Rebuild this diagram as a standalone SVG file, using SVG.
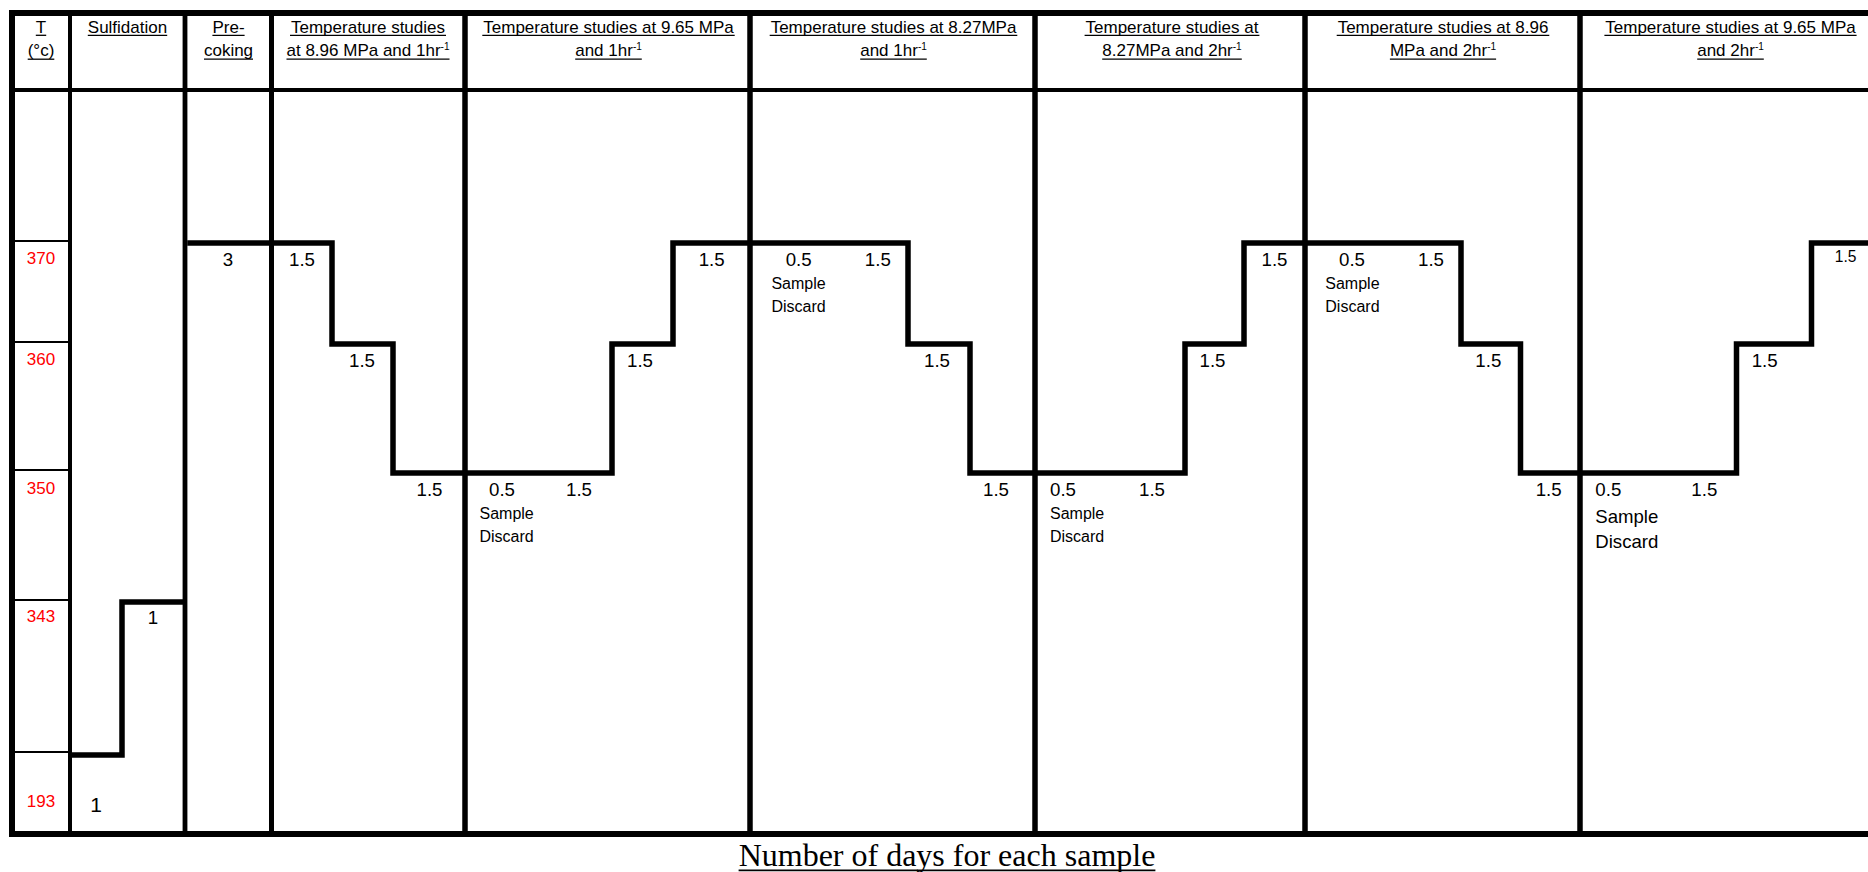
<svg xmlns="http://www.w3.org/2000/svg" width="1868" height="872" viewBox="0 0 1868 872">
<style>
  text { font-family: "Liberation Sans", Arial, sans-serif; fill: #000; }
  .hd { font-size: 17px; text-anchor: middle; }
  .sup { font-size: 10px; }
  .num { font-size: 18.7px; text-anchor: middle; }
  .sd { font-size: 16px; }
  .sd6 { font-size: 18.6px; }
  .red { font-size: 17px; text-anchor: middle; fill: #ff0000; }
  .ul { stroke: #000; stroke-width: 1.3; }
  .thin { stroke: #000; stroke-width: 2; }
  .col { stroke: #000; stroke-width: 5.5; }
  .border { stroke: #000; stroke-width: 6; }
  .step { fill: none; stroke: #000; stroke-width: 5.5; stroke-linejoin: miter; stroke-linecap: square; }
  .cap { font-family: "Liberation Serif", "Times New Roman", serif; font-size: 32px; text-anchor: middle; }
</style>
<rect x="0" y="0" width="1868" height="872" fill="#ffffff"/>

<g id="grid">
  <line class="border" x1="9" y1="13" x2="1868" y2="13"/>
  <line class="border" x1="9" y1="834" x2="1868" y2="834"/>
  <line class="border" x1="12" y1="10" x2="12" y2="837"/>
  <line stroke="#000" stroke-width="4" x1="12" y1="90" x2="1868" y2="90"/>
  <line stroke="#000" stroke-width="4" x1="70" y1="13" x2="70" y2="834"/>
  <line stroke="#000" stroke-width="4.8" x1="185" y1="13" x2="185" y2="834"/>
  <line stroke="#000" stroke-width="5" x1="271.5" y1="13" x2="271.5" y2="834"/>
  <line class="col" x1="465" y1="13" x2="465" y2="834"/>
  <line class="col" x1="750" y1="13" x2="750" y2="834"/>
  <line class="col" x1="1035" y1="13" x2="1035" y2="834"/>
  <line class="col" x1="1305" y1="13" x2="1305" y2="834"/>
  <line class="col" x1="1580" y1="13" x2="1580" y2="834"/>
  <line class="thin" x1="15" y1="241" x2="68" y2="241"/>
  <line class="thin" x1="15" y1="342" x2="68" y2="342"/>
  <line class="thin" x1="15" y1="470" x2="68" y2="470"/>
  <line class="thin" x1="15" y1="600" x2="68" y2="600"/>
  <line class="thin" x1="15" y1="752" x2="68" y2="752"/>
</g>

<g id="connectors">
  <path class="step" d="M74,755 H122 V602 H182"/>
  <path class="step" d="M190,243 H332 V344 H393 V473 H612 V344 H673 V243 H908 V344 H970 V473 H1185 V344 H1244 V243 H1461 V344 H1520.5 V473 H1736.5 V344 H1811.5 V243 H1870"/>
</g>

<g id="col-temperature">
  <text class="hd" x="41" y="33">T</text>
  <line class="ul" x1="35.8" y1="35.3" x2="46.2" y2="35.3"/>
  <text class="hd" x="41" y="56">(°c)</text>
  <line class="ul" x1="27.7" y1="59.2" x2="54.3" y2="59.2"/>
  <text class="red" x="41" y="263.5">370</text>
  <text class="red" x="41" y="364.5">360</text>
  <text class="red" x="41" y="494">350</text>
  <text class="red" x="41" y="621.5">343</text>
  <text class="red" x="41" y="806.5">193</text>
</g>

<g id="col-sulfidation">
  <text class="hd" x="127.5" y="33">Sulfidation</text>
  <line class="ul" x1="87.8" y1="35.3" x2="167.2" y2="35.3"/>
  <text class="num" x="153" y="624">1</text>
  <text class="num" x="96" y="811.5" style="font-size:21px">1</text>
</g>

<g id="col-precoking">
  <text class="hd" x="228.5" y="33">Pre-</text>
  <line class="ul" x1="212.4" y1="35.3" x2="244.6" y2="35.3"/>
  <text class="hd" x="228.5" y="56">coking</text>
  <line class="ul" x1="204" y1="59.2" x2="253" y2="59.2"/>
  <text class="num" x="228" y="266">3</text>
</g>

<g id="col-t1">
  <text class="hd" x="368" y="33">Temperature studies</text>
  <line class="ul" x1="290" y1="35.3" x2="446" y2="35.3"/>
  <text class="hd" x="368" y="56">at 8.96 MPa and 1hr<tspan class="sup" dy="-6">-1</tspan></text>
  <line class="ul" x1="286.5" y1="59.2" x2="449.5" y2="59.2"/>
  <text class="num" x="302" y="266">1.5</text>
  <text class="num" x="362" y="366.7">1.5</text>
  <text class="num" x="429.5" y="496">1.5</text>
</g>

<g id="col-t2">
  <text class="hd" x="608.5" y="33">Temperature studies at 9.65 MPa</text>
  <line class="ul" x1="482.3" y1="35.3" x2="734.7" y2="35.3"/>
  <text class="hd" x="608.5" y="56">and 1hr<tspan class="sup" dy="-6">-1</tspan></text>
  <line class="ul" x1="575.2" y1="59.2" x2="641.8" y2="59.2"/>
  <text class="num" x="502" y="496">0.5</text>
  <text class="sd" x="479.5" y="519">Sample</text>
  <text class="sd" x="479.5" y="541.7">Discard</text>
  <text class="num" x="579" y="496">1.5</text>
  <text class="num" x="640" y="366.7">1.5</text>
  <text class="num" x="711.7" y="266">1.5</text>
</g>

<g id="col-t3">
  <text class="hd" x="893.5" y="33">Temperature studies at 8.27MPa</text>
  <line class="ul" x1="769.7" y1="35.3" x2="1017.3" y2="35.3"/>
  <text class="hd" x="893.5" y="56">and 1hr<tspan class="sup" dy="-6">-1</tspan></text>
  <line class="ul" x1="860.2" y1="59.2" x2="926.8" y2="59.2"/>
  <text class="num" x="798.7" y="266">0.5</text>
  <text class="sd" x="771.4" y="289.3">Sample</text>
  <text class="sd" x="771.4" y="311.7">Discard</text>
  <text class="num" x="877.8" y="266">1.5</text>
  <text class="num" x="937" y="366.7">1.5</text>
  <text class="num" x="996" y="496">1.5</text>
</g>

<g id="col-t4">
  <text class="hd" x="1172" y="33">Temperature studies at</text>
  <line class="ul" x1="1084.6" y1="35.3" x2="1259.4" y2="35.3"/>
  <text class="hd" x="1172" y="56">8.27MPa and 2hr<tspan class="sup" dy="-6">-1</tspan></text>
  <line class="ul" x1="1102.2" y1="59.2" x2="1241.8" y2="59.2"/>
  <text class="num" x="1063" y="496">0.5</text>
  <text class="sd" x="1050" y="519.3">Sample</text>
  <text class="sd" x="1050" y="542">Discard</text>
  <text class="num" x="1152" y="496">1.5</text>
  <text class="num" x="1212.5" y="366.7">1.5</text>
  <text class="num" x="1274.5" y="266">1.5</text>
</g>

<g id="col-t5">
  <text class="hd" x="1443" y="33">Temperature studies at 8.96</text>
  <line class="ul" x1="1336.7" y1="35.3" x2="1549.3" y2="35.3"/>
  <text class="hd" x="1443" y="56">MPa and 2hr<tspan class="sup" dy="-6">-1</tspan></text>
  <line class="ul" x1="1389.9" y1="59.2" x2="1496.1" y2="59.2"/>
  <text class="num" x="1352" y="266">0.5</text>
  <text class="sd" x="1325.3" y="289">Sample</text>
  <text class="sd" x="1325.3" y="311.7">Discard</text>
  <text class="num" x="1431" y="266">1.5</text>
  <text class="num" x="1488.3" y="366.7">1.5</text>
  <text class="num" x="1548.7" y="496">1.5</text>
</g>

<g id="col-t6">
  <text class="hd" x="1730.5" y="33">Temperature studies at 9.65 MPa</text>
  <line class="ul" x1="1604.4" y1="35.3" x2="1856.6" y2="35.3"/>
  <text class="hd" x="1730.5" y="56">and 2hr<tspan class="sup" dy="-6">-1</tspan></text>
  <line class="ul" x1="1697.2" y1="59.2" x2="1763.8" y2="59.2"/>
  <text class="num" x="1608.3" y="496">0.5</text>
  <text class="sd6" x="1595.3" y="522.7">Sample</text>
  <text class="sd6" x="1595.3" y="547.7">Discard</text>
  <text class="num" x="1704.3" y="496">1.5</text>
  <text class="num" x="1764.7" y="366.7">1.5</text>
  <text class="num" x="1845.7" y="262.3" style="font-size:15.6px">1.5</text>
</g>

<g id="caption">
  <text class="cap" x="947" y="866">Number of days for each sample</text>
  <line stroke="#000" stroke-width="1.8" x1="738.6" y1="870.3" x2="1155.4" y2="870.3"/>
</g>
</svg>
